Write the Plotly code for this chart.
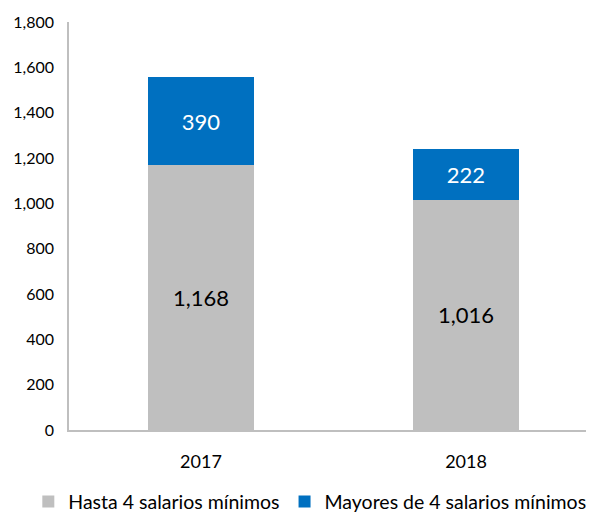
import plotly.graph_objects as go

years = ["2017", "2018"]
hasta = [1168, 1016]
mayores = [390, 222]
series_names = ["Hasta 4 salarios mínimos", "Mayores de 4 salarios mínimos"]
y_ticks = list(range(0, 1801, 200))
y_tick_labels = [f"{v:,}" for v in y_ticks]

FONT = "Lato, Carlito, Calibri, sans-serif"

fig = go.Figure()
fig.add_trace(go.Bar(
    x=years, y=hasta, name=series_names[0],
    marker=dict(color="#BFBFBF", line=dict(width=0)),
    text=[f"{v:,}" for v in hasta], textposition="inside",
    insidetextanchor="middle",
    textfont=dict(family=FONT, size=22, color="#000000"),
))
fig.add_trace(go.Bar(
    x=years, y=mayores, name=series_names[1],
    marker=dict(color="#0070C0", line=dict(width=0)),
    text=[f"{v:,}" for v in mayores], textposition="inside",
    insidetextanchor="middle",
    textfont=dict(family=FONT, size=22, color="#FFFFFF"),
))

fig.update_layout(
    barmode="stack",
    bargap=0.6,
    width=586, height=504,
    margin=dict(l=61, r=0, t=14, b=82, autoexpand=False),
    paper_bgcolor="white", plot_bgcolor="white",
    font=dict(family=FONT, size=16, color="#000000"),
    legend=dict(orientation="h", x=-0.0775, xanchor="left", y=-0.176, yanchor="middle",
                font=dict(family=FONT, size=19.5, color="#000000"),
                itemwidth=30, traceorder="normal"),
    showlegend=True,
)
fig.update_xaxes(
    range=[-0.498, 1.483],
    showline=True, linecolor="#BFBFBF", linewidth=1.5,
    showgrid=False, ticks="", tickfont=dict(family=FONT, size=18),
    ticklabelstandoff=15,
)
fig.update_yaxes(
    range=[0, 1800], tickvals=y_ticks, ticktext=y_tick_labels,
    showline=True, linecolor="#BFBFBF", linewidth=1.5,
    showgrid=False, ticks="", zeroline=False,
    tickfont=dict(family=FONT, size=16), ticklabelstandoff=10,
)

fig.write_html("out.html")
